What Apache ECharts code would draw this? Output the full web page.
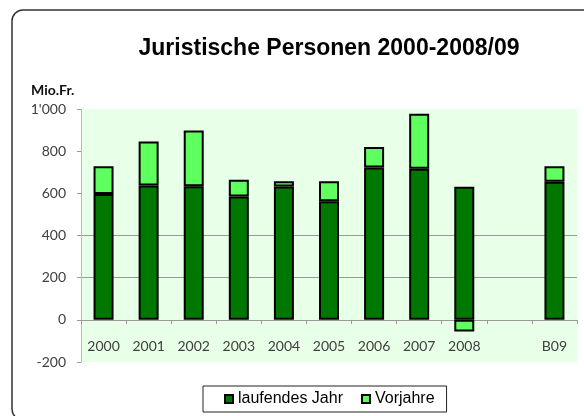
<!DOCTYPE html>
<html>
<head>
<meta charset="utf-8">
<title>Juristische Personen 2000-2008/09</title>
<script src="https://cdn.jsdelivr.net/npm/echarts@6/dist/echarts.min.js"></script>
<style>
    html, body { margin: 0; padding: 0; background: #fff; }
    #chart { width: 584px; height: 416px; }
</style>
</head>
<body>
<div id="chart"></div>
<script>
// values, Mio.Fr.
const years = ['2000', '2001', '2002', '2003', '2004', '2005', '2006', '2007', '2008', '', 'B09'];
const laufendesJahr = [597, 637, 634, 585, 633, 562, 723, 717, 631, null, 655];
const vorjahre = [131, 209, 264, 79, 24, 95, 97, 261, -55, null, 73];
const yTicks = { min: -200, max: 1000, step: 200 };

const chart = echarts.init(document.getElementById('chart'), null, { renderer: 'canvas' });

// 1000 -> 1'000
const fmt = (v) => String(v).replace(/\B(?=(\d{3})+(?!\d))/g, "'");

const barBorder = { borderColor: '#000', borderWidth: 2 };
const hidden = 'rgba(0,0,0,0)';

// grid box, the x axis is lifted from the bottom edge up to the 0 line
const gridTop = 109, gridBottom = 54;
const plotH = 416 - gridTop - gridBottom;
const zeroLift = Math.round(plotH * (0 - yTicks.min) / (yTicks.max - yTicks.min));

const option = {
    animation: false,
    textStyle: { fontFamily: 'Liberation Sans, Arial, sans-serif' },
    graphic: [{
        type: 'rect',
        shape: { x: 12, y: 10, width: 600, height: 410, r: 11 },
        style: { fill: null, stroke: '#333', lineWidth: 1.5 },
        silent: true
    }],
    title: [
        {
            text: 'Juristische Personen 2000-2008/09',
            left: 324, top: 32, textAlign: 'center',
            textStyle: { fontSize: 23, fontWeight: 'bold', color: '#000', fontFamily: 'Liberation Sans, Arial, sans-serif' }
        },
        {
            text: 'Mio.Fr.',
            left: 26, top: 78,
            textStyle: { fontSize: 14, fontWeight: 'bold', color: '#111', fontFamily: 'Lato, sans-serif' }
        }
    ],
    legend: {
        left: 203, top: 386,
        padding: [5, 12, 5, 21],
        itemGap: 18,
        itemWidth: 8, itemHeight: 8,
        icon: 'rect',
        borderColor: '#222', borderWidth: 1,
        textStyle: { fontSize: 16, color: '#000', fontFamily: 'Liberation Sans, Arial, sans-serif' },
        data: ['laufendes Jahr', 'Vorjahre']
    },
    grid: {
        left: 81, right: 7, top: gridTop, bottom: gridBottom,
        show: true, backgroundColor: '#E8FFE8', borderWidth: 0,
        outerBoundsMode: 'none'
    },
    xAxis: {
        type: 'category',
        data: years,
        offset: -zeroLift,
        axisLine: { onZero: false, lineStyle: { color: '#999', width: 1 } },
        axisTick: { show: true, length: 4, lineStyle: { color: '#999' } },
        axisLabel: { margin: 19, fontSize: 14, color: '#404040', fontFamily: 'Lato, sans-serif' }
    },
    yAxis: {
        type: 'value',
        min: yTicks.min, max: yTicks.max, interval: yTicks.step,
        axisLine: { show: true, lineStyle: { color: '#bbb', width: 1 } },
        axisTick: { show: true, length: 4, lineStyle: { color: '#999' } },
        axisLabel: { margin: 15, fontSize: 14, color: '#404040', fontFamily: 'Lato, sans-serif', formatter: fmt },
        splitLine: {
            show: true, showMinLine: true, showMaxLine: true,
            // only 200 and 400 show a line in the original
            lineStyle: { color: [hidden, '#999', '#999', '#999', hidden, hidden, hidden], width: 1 }
        }
    },
    series: [
        {
            name: 'laufendes Jahr', type: 'bar', stack: 'total',
            barWidth: 20,
            itemStyle: Object.assign({ color: '#007800' }, barBorder),
            data: laufendesJahr
        },
        {
            name: 'Vorjahre', type: 'bar', stack: 'total',
            barWidth: 20,
            itemStyle: Object.assign({ color: '#5FFF5F' }, barBorder),
            data: vorjahre
        }
    ]
};

chart.setOption(option);
</script>
</body>
</html>
